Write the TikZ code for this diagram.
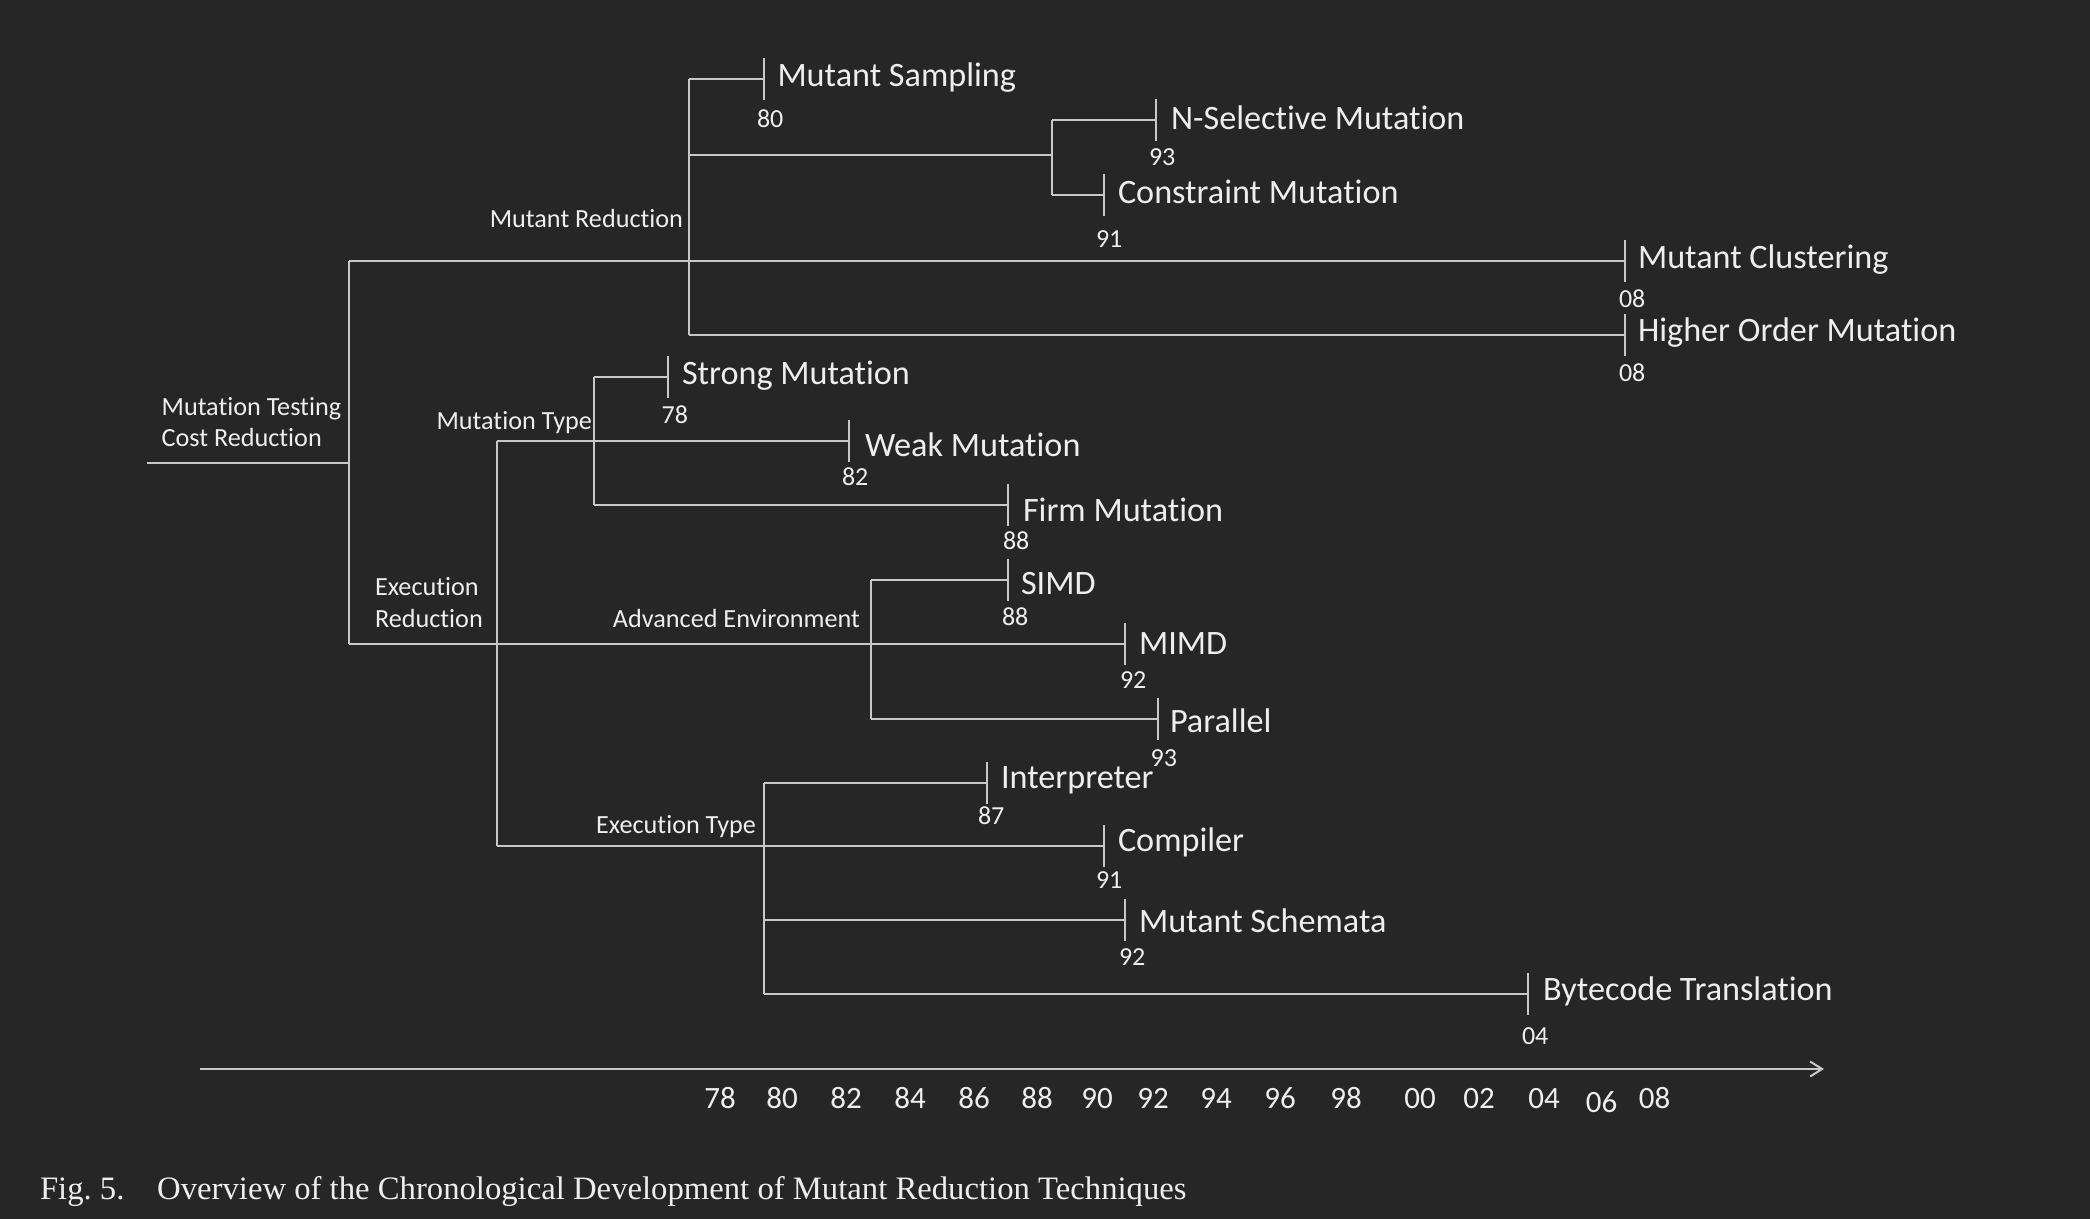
\documentclass[tikz,border=0pt]{standalone}
\usepackage{fontspec}
\setmainfont{Carlito}[RawFeature=-liga]
\newfontfamily\capfont{Liberation Serif}
\usetikzlibrary{arrows.meta}
\definecolor{bg}{RGB}{38,38,38}
\definecolor{ln}{RGB}{200,200,200}
\definecolor{tx}{RGB}{238,238,238}
\begin{document}
\begin{tikzpicture}[x=0.5pt,y=-0.5pt,
  every node/.style={inner sep=0pt, outer sep=0pt, text=tx},
  wire/.style={draw=ln, line width=1pt},
  lbl/.style={anchor=base west, yshift=-1pt, font=\fontsize{17.1}{20}\selectfont},
  yr/.style={anchor=base west, yshift=-0.5pt, font=\fontsize{13}{15}\selectfont},
  grp/.style={font=\fontsize{13.1}{16}\selectfont},
  axl/.style={anchor=base, yshift=-1.5pt, font=\fontsize{15.5}{18}\selectfont}
]
\fill[bg] (0,0) rectangle (2090,1219);
\useasboundingbox (0,0) rectangle (2090,1219);

% ---- junction coordinates
\coordinate (r0) at (147,463);
\coordinate (r) at (349,463);
\coordinate (rT) at (349,261);
\coordinate (rB) at (349,644);
\coordinate (mrT) at (688.5,79);
\coordinate (mrB) at (688.5,335);
\coordinate (mrJ) at (688.5,155);
\coordinate (selJ) at (1052,155);
\coordinate (selT) at (1052,120);
\coordinate (selB) at (1052,195);
\coordinate (erT) at (497,441);
\coordinate (erB) at (497,846);
\coordinate (mtT) at (594,377);
\coordinate (mtB) at (594,505);
\coordinate (aeT) at (870.5,580);
\coordinate (aeB) at (870.5,719);
\coordinate (etT) at (764,782.5);
\coordinate (etJ) at (764,920);
\coordinate (etB) at (764,994);

% ---- leaf tick coordinates
\coordinate (ms) at (764,79);
\coordinate (ns) at (1156,120);
\coordinate (cm) at (1104,195);
\coordinate (mc) at (1625,261);
\coordinate (ho) at (1625,335);
\coordinate (sm) at (668,377);
\coordinate (wm) at (849,441);
\coordinate (fm) at (1007.5,505);
\coordinate (simd) at (1008,580);
\coordinate (mimd) at (1124.5,644);
\coordinate (par) at (1157.5,719);
\coordinate (intp) at (987,782.5);
\coordinate (comp) at (1104,846);
\coordinate (sch) at (1124.5,920);
\coordinate (bt) at (1528,994);

% ---- connectors
\draw[wire] (r0) -- (r);
\draw[wire] (rT) -- (rB);
\draw[wire] (rT) -- (mc);
\draw[wire] (mrT) -- (mrB);
\draw[wire] (mrT) -- (ms);
\draw[wire] (mrJ) -- (selJ);
\draw[wire] (selT) -- (selB);
\draw[wire] (selT) -- (ns);
\draw[wire] (selB) -- (cm);
\draw[wire] (mrB) -- (ho);
\draw[wire] (rB) -- (mimd);
\draw[wire] (erT) -- (erB);
\draw[wire] (erT) -- (wm);
\draw[wire] (erB) -- (comp);
\draw[wire] (mtT) -- (mtB);
\draw[wire] (mtT) -- (sm);
\draw[wire] (mtB) -- (fm);
\draw[wire] (aeT) -- (aeB);
\draw[wire] (aeT) -- (simd);
\draw[wire] (aeB) -- (par);
\draw[wire] (etT) -- (etB);
\draw[wire] (etT) -- (intp);
\draw[wire] (etJ) -- (sch);
\draw[wire] (etB) -- (bt);

% ---- ticks
\foreach \t in {ms,ns,cm,mc,ho,sm,wm,fm,simd,mimd,par,intp,comp,sch,bt}
  \draw[wire] (\t) ++(0,-21) -- ++(0,42);

% ---- leaf labels
\node[lbl] (tms) at (777.5,85) {Mutant Sampling};
\node[lbl] (tns) at (1171,128) {N-Selective Mutation};
\node[lbl] (tcm) at (1118,202) {Constraint Mutation};
\node[lbl] (tmc) at (1638,267) {Mutant Clustering};
\node[lbl] (tho) at (1638,340) {Higher Order Mutation};
\node[lbl] (tsm) at (682,383) {Strong Mutation};
\node[lbl] (twm) at (865,455) {Weak Mutation};
\node[lbl] (tfm) at (1023,520) {Firm Mutation};
\node[lbl] (tsimd) at (1021,593) {SIMD};
\node[lbl] (tmimd) at (1139,652.5) {MIMD};
\node[lbl] (tpar) at (1170,731) {Parallel};
\node[lbl] (tintp) at (1001,786) {Interpreter};
\node[lbl] (tcomp) at (1118,849) {Compiler};
\node[lbl] (tsch) at (1139,930) {Mutant Schemata};
\node[lbl] (tbt) at (1543,998) {Bytecode Translation};

% ---- year labels
\node[yr] (yms) at (757,127) {80};
\node[yr] (yns) at (1149,165) {93};
\node[yr] (ycm) at (1096,247) {91};
\node[yr] (ymc) at (1619,307) {08};
\node[yr] (yho) at (1619,381) {08};
\node[yr] (ysm) at (661.7,422.7) {78};
\node[yr] (ywm) at (842,485) {82};
\node[yr] (yfm) at (1003,549) {88};
\node[yr] (ysimd) at (1002,624) {88};
\node[yr] (ymimd) at (1120,687.5) {92};
\node[yr] (ypar) at (1150.6,765) {93};
\node[yr] (yintp) at (978,823) {87};
\node[yr] (ycomp) at (1096,887) {91};
\node[yr] (ysch) at (1119,964) {92};
\node[yr] (ybt) at (1522,1043) {04};

% ---- group labels
\node[grp, anchor=base west] (mtc1) at (161.6,416) {Mutation Testing};
\node[grp, anchor=base west] (mtc2) at (161.6,447) {Cost Reduction};
\node[grp, anchor=base east] (gmr) at (683,228) {Mutant Reduction};
\node[grp, anchor=base east] (gmt) at (592,430) {Mutation Type};
\node[grp, anchor=base west] (ger1) at (375,596) {Execution};
\node[grp, anchor=base west] (ger2) at (375,628) {Reduction};
\node[grp, anchor=base east] (gae) at (860,627) {Advanced Environment};
\node[grp, anchor=base east] (get) at (756,833) {Execution Type};

% ---- time axis
\coordinate (ax0) at (200,1069);
\coordinate (ax1) at (1824,1069);
\draw[wire, -{Straight Barb[length=6pt,width=7.5pt,line width=1pt]}] (ax0) -- (ax1);
\node[axl] (a78) at (720,1105) {78};
\node[axl] (a80) at (782,1105) {80};
\node[axl] (a82) at (846,1105) {82};
\node[axl] (a84) at (910,1105) {84};
\node[axl] (a86) at (974,1105) {86};
\node[axl] (a88) at (1037,1105) {88};
\node[axl] (a90) at (1097,1105) {90};
\node[axl] (a92) at (1153,1105) {92};
\node[axl] (a94) at (1216,1105) {94};
\node[axl] (a96) at (1280,1105) {96};
\node[axl] (a98) at (1346,1105) {98};
\node[axl] (a00) at (1420,1105) {00};
\node[axl] (a02) at (1479,1105) {02};
\node[axl] (a04) at (1544,1105) {04};
\node[axl] (a06) at (1601.5,1109) {06};
\node[axl] (a08) at (1654.5,1105) {08};

% ---- caption
\node[anchor=base west, yshift=-1pt, font=\capfont\fontsize{16.35}{20}\selectfont] (cap) at (40,1197)
  {Fig.~5.\quad Overview of the Chronological Development of Mutant Reduction Techniques};
\end{tikzpicture}
\end{document}
